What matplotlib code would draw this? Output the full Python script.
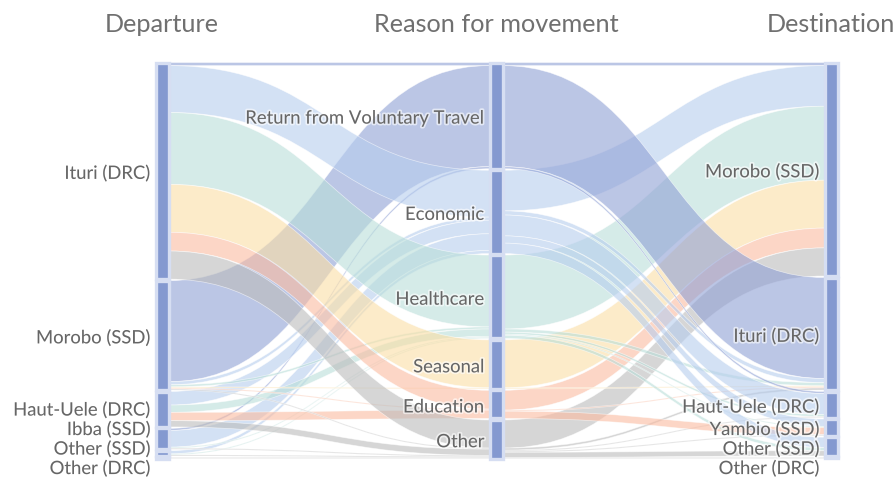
import matplotlib
matplotlib.use("Agg")
import matplotlib.pyplot as plt
import matplotlib.patheffects as pe
from matplotlib.patches import Rectangle, PathPatch
from matplotlib.path import Path
import numpy as np

plt.rcParams['font.family'] = ['Lato', 'DejaVu Sans']

departures = ["Ituri (DRC)", "Morobo (SSD)", "Haut-Uele (DRC)", "Ibba (SSD)",
              "Other (SSD)", "Other (DRC)"]
reasons = ["Return from Voluntary Travel", "Economic", "Healthcare", "Seasonal",
           "Education", "Other"]
destinations = ["Morobo (SSD)", "Ituri (DRC)", "Haut-Uele (DRC)", "Yambio (SSD)",
                "Other (SSD)", "Other (DRC)"]
titles = ["Departure", "Reason for movement", "Destination"]

# rows: departures, cols: reasons
dep_reason = [
    [3, 45, 69, 46, 18, 27],
    [97, 3, 2, 1, 1, 1],
    [0, 13, 7, 0, 8, 6],
    [2, 16, 1, 0, 0, 1],
    [0, 3, 1, 0, 0, 1],
    [0, 0, 0, 0, 0, 1],
]
# rows: reasons, cols: destinations
reason_dest = [
    [3, 97, 2, 0, 0, 0],
    [39, 4, 20, 7, 10, 0],
    [71, 3, 2, 1, 3, 0],
    [46, 1, 0, 0, 0, 0],
    [19, 1, 0, 7, 0, 0],
    [27, 2, 1, 1, 5, 1],
]

# link colours follow the reason
reason_colors = ["#8fa0d5", "#b6cdee", "#b9ded9", "#fbdea5", "#fbbba0", "#bbbbbb"]
link_alpha = 0.6
node_color = "#8499d0"
node_edge = "#d6def2"
text_color = "#666666"

W, H = 894, 478
col_x = [162, 496, 831]
node_w = 13
top, bottom = 62.5, 458.5
pad = 1.5

A = np.array(dep_reason, dtype=float)
B = np.array(reason_dest, dtype=float)
sizes = [A.sum(axis=1), np.maximum(A.sum(axis=0), B.sum(axis=1)), B.sum(axis=0)]
n = len(departures)
total = max(s.sum() for s in sizes)
scale = (bottom - top - pad * (n - 1)) / total

node_y = []
for s in sizes:
    ys = top + np.concatenate([[0], np.cumsum(s[:-1] * scale + pad)])
    node_y.append(ys)

fig = plt.figure(figsize=(W / 100, H / 100), dpi=100)
ax = fig.add_axes([0, 0, 1, 1])
ax.set_xlim(0, W)
ax.set_ylim(H, 0)
ax.axis('off')


def draw_link(x0, x1, s0, s1, t0, t1, color):
    xm = (x0 + x1) / 2
    verts = [(x0, s0), (xm, s0), (xm, t0), (x1, t0),
             (x1, t1), (xm, t1), (xm, s1), (x0, s1), (x0, s0)]
    codes = [Path.MOVETO, Path.CURVE4, Path.CURVE4, Path.CURVE4,
             Path.LINETO, Path.CURVE4, Path.CURVE4, Path.CURVE4, Path.CLOSEPOLY]
    ax.add_patch(PathPatch(Path(verts, codes), facecolor=color, alpha=link_alpha,
                           edgecolor='white', lw=0.5, zorder=1))


for stage, M in enumerate([A, B]):
    x0 = col_x[stage] + node_w / 2
    x1 = col_x[stage + 1] - node_w / 2
    src_off = np.zeros(n)
    tgt_off = np.zeros(n)
    # outgoing links ordered by target, incoming by source
    src_pos = {}
    for i in range(n):
        for j in range(n):
            if M[i, j] > 0:
                src_pos[(i, j)] = node_y[stage][i] + src_off[i]
                src_off[i] += M[i, j] * scale
    for j in range(n):
        for i in range(n):
            if M[i, j] > 0:
                t = node_y[stage + 1][j] + tgt_off[j]
                tgt_off[j] += M[i, j] * scale
                s = src_pos[(i, j)]
                h = M[i, j] * scale
                color = reason_colors[j] if stage == 0 else reason_colors[i]
                draw_link(x0, x1, s, s + h, t, t + h, color)

for c in range(3):
    for k in range(n):
        ax.add_patch(Rectangle((col_x[c] - node_w / 2, node_y[c][k]), node_w,
                               max(sizes[c][k] * scale, 0.8), facecolor=node_color,
                               edgecolor=node_edge, lw=2.4, zorder=3))


def spread(centers, gap, limit):
    ys = list(centers)
    for k in range(1, len(ys)):
        ys[k] = max(ys[k], ys[k - 1] + gap)
    ys[-1] = min(ys[-1], limit)
    for k in range(len(ys) - 2, -1, -1):
        ys[k] = min(ys[k], ys[k + 1] - gap)
    return ys


halo = [pe.withStroke(linewidth=2.5, foreground='white', alpha=0.6)]
for c, names in enumerate([departures, reasons, destinations]):
    centers = node_y[c] + sizes[c] * scale / 2
    ys = spread(centers, 19.5, bottom + 7.5)
    for name, y in zip(names, ys):
        ax.text(col_x[c] - node_w / 2 - 5, y + 3, name, ha='right', va='center',
                fontsize=13.3, color=text_color, path_effects=halo, zorder=4)
    ax.text(col_x[c], 24, titles[c], ha='center', va='center', fontsize=18.2,
            color='#707070', zorder=4)

fig.savefig("out.png", dpi=100)
